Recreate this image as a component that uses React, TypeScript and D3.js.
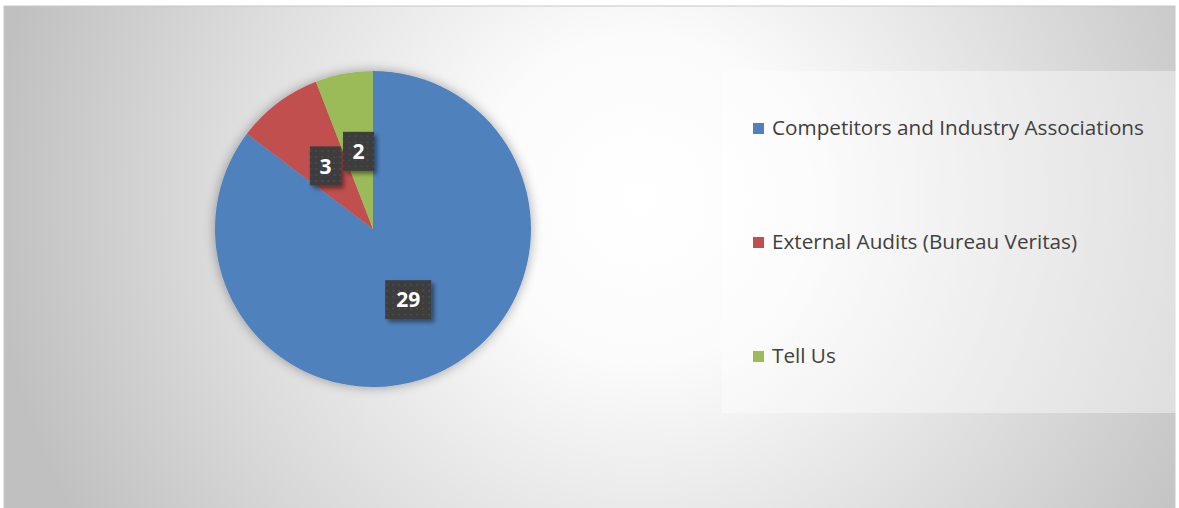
import React from "react";
import * as d3 from "d3";

const categories = ["Competitors and Industry Associations", "External Audits (Bureau Veritas)", "Tell Us"];
const values = [29, 3, 2];
const colors = ["#4f81bd", "#c0504d", "#9bbb59"];

const W = 1179;
const H = 508;
const cx = 373;
const cy = 229;
const R = 158;

export default function App() {
  const pie = d3.pie<number>().sort(null).value((d) => d)(values);
  const arc = d3.arc<d3.PieArcDatum<number>>().innerRadius(0).outerRadius(R);
  const labelArc = d3.arc<d3.PieArcDatum<number>>().innerRadius(R * 0.5).outerRadius(R * 0.5);
  const legendY = d3.scalePoint<string>().domain(categories).range([128, 356]);
  const font = "'Open Sans', 'Noto Sans', sans-serif";

  return (
    <svg width={W} height={H} style={{ position: "absolute", left: 0, top: 0 }}>
      <defs>
        <radialGradient id="bg" gradientUnits="userSpaceOnUse" cx={640} cy={200} r={650}>
          <stop offset="0" stopColor="#ffffff" />
          <stop offset="0.25" stopColor="#fbfbfb" />
          <stop offset="0.6" stopColor="#e0e0e0" />
          <stop offset="1" stopColor="#c0c0c0" />
        </radialGradient>
        <filter id="pieShadow" x="-20%" y="-20%" width="140%" height="140%">
          <feGaussianBlur in="SourceAlpha" stdDeviation="6" />
          <feOffset dx="0" dy="0" result="b" />
          <feComponentTransfer>
            <feFuncA type="linear" slope="0.35" />
          </feComponentTransfer>
          <feMerge>
            <feMergeNode />
            <feMergeNode in="SourceGraphic" />
          </feMerge>
        </filter>
        <filter id="lblShadow" x="-30%" y="-30%" width="160%" height="160%">
          <feGaussianBlur in="SourceAlpha" stdDeviation="2" />
          <feOffset dx="3" dy="3" />
          <feComponentTransfer>
            <feFuncA type="linear" slope="0.45" />
          </feComponentTransfer>
          <feMerge>
            <feMergeNode />
            <feMergeNode in="SourceGraphic" />
          </feMerge>
        </filter>
        <pattern id="dots" width="6" height="6" patternUnits="userSpaceOnUse">
          <rect width="6" height="6" fill="#3c3c3c" />
          <rect x="2" y="2" width="2" height="2" fill="#4a4a4a" />
        </pattern>
      </defs>
      <rect x={0} y={0} width={W} height={H} fill="#ffffff" />
      <rect x={4} y={6} width={1171} height={H} fill="url(#bg)" stroke="#c8c8c8" strokeWidth={1} />
      <g transform={`translate(${cx},${cy})`}>
        <g filter="url(#pieShadow)">
          {pie.map((d, i) => (
            <path key={i} d={arc(d) || ""} fill={colors[i]} />
          ))}
        </g>
        {pie.map((d, i) => {
          const [x, y] = labelArc.centroid(d);
          const txt = String(values[i]);
          const w = txt.length > 1 ? 46 : 31;
          const h = 39;
          return (
            <g key={i} transform={`translate(${x},${y})`}>
              <rect x={-w / 2} y={-h / 2} width={w} height={h} fill="url(#dots)" filter="url(#lblShadow)" />
              <text
                textAnchor="middle"
                dy="0.36em"
                fill="#ffffff"
                fontFamily={font}
                fontWeight="bold"
                fontSize={21}
              >
                {txt}
              </text>
            </g>
          );
        })}
      </g>
      <rect x={722} y={71} width={454} height={342} fill="#ffffff" fillOpacity={0.4} />
      {categories.map((c, i) => {
        const y = legendY(c) as number;
        return (
          <g key={c}>
            <rect x={753} y={y - 5} width={11} height={11} fill={colors[i]} />
            <text x={772} y={y} dy="0.35em" fill="#404040" fontFamily={font} fontSize={20.7}>
              {c}
            </text>
          </g>
        );
      })}
    </svg>
  );
}
